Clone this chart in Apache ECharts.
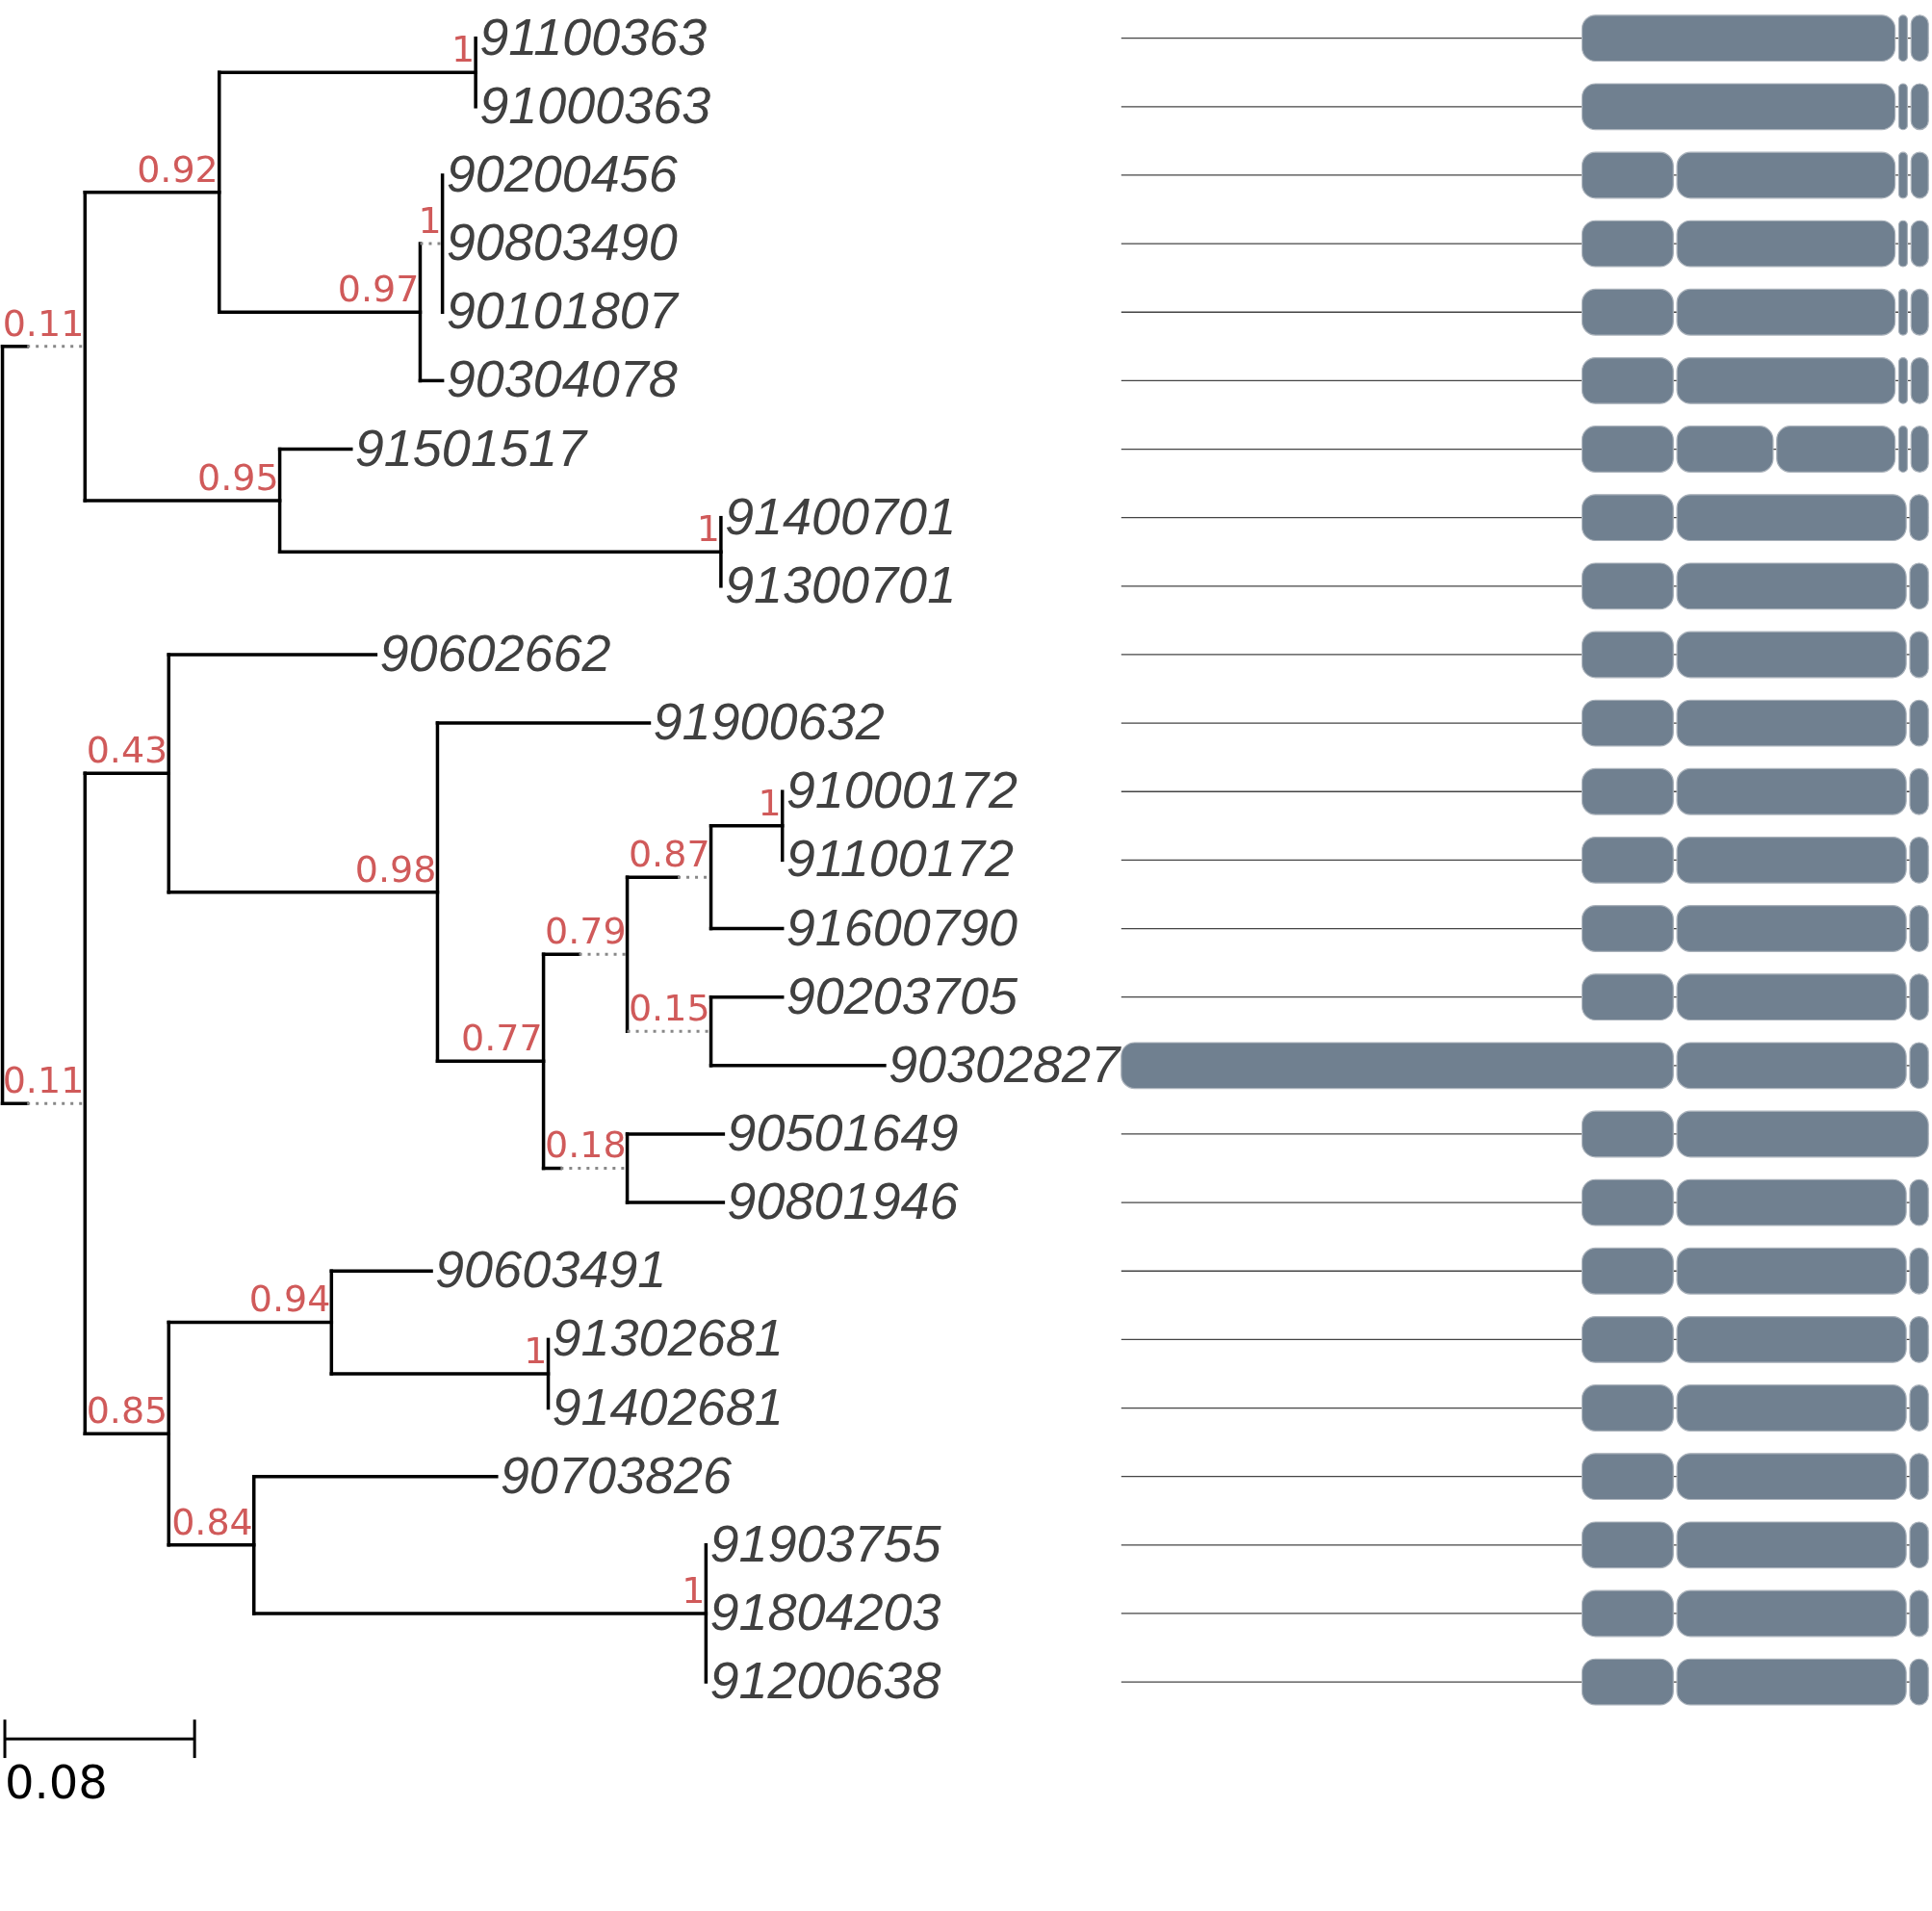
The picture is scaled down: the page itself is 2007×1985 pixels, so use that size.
<!DOCTYPE html>
<html><head><meta charset="utf-8">
<script src="https://cdn.jsdelivr.net/npm/echarts@6/dist/echarts.min.js"></script>
<style>html,body{margin:0;padding:0;background:#fff}#c{width:2007px;height:1985px}</style>
</head><body><div id="c"></div>
<script>
// leaves, top to bottom
const leafNames = ['91100363','91000363','90200456','90803490','90101807','90304078','91501517','91400701','91300701',
  '90602662','91900632','91000172','91100172','91600790','90203705','90302827','90501649','90801946',
  '90603491','91302681','91402681','90703826','91903755','91804203','91200638'];
const leafParent = ['A1a','A1a','A1c','A1c','A1c','A1b','A2','A2a','A2a','B1','B1b','F','F','E','G','G','H','H','I','J','J','K','L','L','L'];
const leafDepth = [0.1995,0.1995,0.1855,0.1855,0.1855,0.1855,0.1470,0.3029,0.3029,0.1574,0.2727,0.3288,0.3288,0.3288,0.3288,0.3719,0.3039,0.3039,0.1808,0.2301,0.2301,0.2083,0.2966,0.2966,0.2966];
// internal nodes: id, parent, depth, support, dotted-from depth
const nodeIds     = ['root','A','A1','A1a','A1b','A1c','A2','A2a','B','B1','B1b','C','D','E','F','G','H','B2','I','J','K','L'];
const nodeParent  = [null,'root','A','A1','A1','A1b','A','A2','root','B','B1','B1b','C','D','E','D','C','B','B2','I','B2','K'];
const nodeDepth   = [0,0.0348,0.0914,0.1995,0.1761,0.1855,0.1169,0.3029,0.0348,0.0701,0.1834,0.2281,0.2634,0.2987,0.3288,0.2987,0.2634,0.0701,0.1387,0.2301,0.1060,0.2966];
const nodeSupport = ['','0.11','0.92','1','0.97','1','0.95','1','0.11','0.43','0.98','0.77','0.79','0.87','1','0.15','0.18','0.85','0.94','1','0.84','1'];
const nodeDashFrom= [null,0.0104,null,null,null,0.1761,null,null,0.0104,null,null,null,0.2431,0.2847,null,0.2634,0.2353,null,null,null,null,null];
const scaleBar = 0.08;
// gene structures (exon start/end, relative position)
const T1 = [[374,628],[631,638],[641,655]];
const T2 = [[374,448],[451,628],[631,638],[641,655]];
const T3 = [[374,448],[451,529],[532,628],[631,638],[641,655]];
const T4 = [[374,448],[451,637],[640,655]];
const geneExons = [T1,T1,T2,T2,T2,T2,T3,T4,T4,T4,T4,T4,T4,T4,T4,[[0,448],[451,637],[640,655]],[[374,448],[451,655]],T4,T4,T4,T4,T4,T4,T4,T4];
const geneLength = 655;

// compute node y positions
const N = {};
nodeIds.forEach((id,i)=>N[id]={x:nodeDepth[i],p:nodeParent[i],s:nodeSupport[i],dash:nodeDashFrom[i],kids:[]});
leafNames.forEach((n,i)=>N[leafParent[i]].kids.push({x:leafDepth[i],y:i}));
nodeIds.forEach(id=>{if(N[id].p) N[N[id].p].kids.push(N[id]);});
function yOf(n){ if(n.y!==undefined) return n.y; const ys=n.kids.map(yOf); n.y=(Math.min(...ys)+Math.max(...ys))/2; n.y0=Math.min(...ys); n.y1=Math.max(...ys); return n.y; }
yOf(N.root);
// segments: [x1,y1,x2,y2,dotted]
const segs = [];
nodeIds.forEach(id=>{
  const n=N[id];
  segs.push([n.x,n.y0,n.x,n.y1,0]);
  n.kids.forEach(k=>{
    if(k.dash!=null && k.dash!==undefined){
      if(k.dash>n.x) segs.push([n.x,k.y,k.dash,k.y,0]);
      segs.push([k.dash,k.y,k.x,k.y,1]);
    } else segs.push([n.x,k.y,k.x,k.y,0]);
  });
});
const supLabels = nodeIds.filter(id=>N[id].s).map(id=>[N[id].x,N[id].y,N[id].s]);
const leafLabels = leafNames.map((n,i)=>[leafDepth[i],i,n]);
const geneRects = [];
geneExons.forEach((ex,i)=>ex.forEach(e=>geneRects.push([e[0],i,e[1]])));
const geneLines = geneExons.map((ex,i)=>[0,i,ex[ex.length-1][1]]);

const S = 1.28;
const rowPx = 55.58*S;
const yMin=-0.5, yMax=26;
const gTop = 31*S - 0.5*rowPx, gH = (yMax-yMin)*rowPx;
const yAx = i=>({gridIndex:i,type:'value',min:yMin,max:yMax,inverse:true,show:false});

const chart = echarts.init(document.getElementById('c'));
chart.setOption({
  animation:false,
  grid:[{left:2*S,top:gTop,width:0.45*1925*S,height:gH},
        {left:910*S,top:gTop,width:655*S,height:gH}],
  xAxis:[{gridIndex:0,type:'value',min:0,max:0.45,show:false},
         {gridIndex:1,type:'value',min:0,max:geneLength,show:false}],
  yAxis:[yAx(0),yAx(1)],
  series:[
    {type:'custom',xAxisIndex:0,yAxisIndex:0,clip:false,data:segs,
     renderItem:(p,api)=>{const a=api.coord([api.value(0),api.value(1)]),b=api.coord([api.value(2),api.value(3)]);
       const dotted=api.value(4)===1;
       return {type:'line',shape:{x1:a[0],y1:a[1],x2:b[0],y2:b[1]},
         style:dotted?{stroke:'#888',lineWidth:3,lineDash:[3,6]}:{stroke:'#000',lineWidth:3.5,lineCap:'square'}};}},
    {type:'custom',xAxisIndex:0,yAxisIndex:0,clip:false,data:supLabels,
     renderItem:(p,api)=>{const a=api.coord([api.value(0),api.value(1)]);
       return {type:'text',x:a[0]-1,y:a[1]-2,style:{text:supLabels[p.dataIndex][2],fill:'#d05a5a',
         font:'38px "DejaVu Sans"',align:'right',verticalAlign:'bottom'}};}},
    {type:'custom',xAxisIndex:0,yAxisIndex:0,clip:false,data:leafLabels,
     renderItem:(p,api)=>{const a=api.coord([api.value(0),api.value(1)]);
       return {type:'text',x:a[0]+4,y:a[1]+2,style:{text:leafLabels[p.dataIndex][2],fill:'#404040',
         font:'italic 54px "Liberation Sans"',align:'left',verticalAlign:'middle'}};}},
    {type:'custom',xAxisIndex:0,yAxisIndex:0,clip:false,data:[[0.001,24.83]],
     renderItem:(p,api)=>{const a=api.coord([api.value(0),api.value(1)]),b=api.coord([api.value(0)+scaleBar,api.value(1)]);
       const t=0.28*rowPx, st={stroke:'#000',lineWidth:3};
       return {type:'group',children:[
         {type:'line',shape:{x1:a[0],y1:a[1],x2:b[0],y2:b[1]},style:st},
         {type:'line',shape:{x1:a[0],y1:a[1]-t,x2:a[0],y2:a[1]+t},style:st},
         {type:'line',shape:{x1:b[0],y1:b[1]-t,x2:b[0],y2:b[1]+t},style:st},
         {type:'text',x:a[0],y:a[1]+0.7*rowPx,style:{text:String(scaleBar),fill:'#000',font:'48px "DejaVu Sans"',verticalAlign:'middle'}}]};}},
    {type:'custom',xAxisIndex:1,yAxisIndex:1,clip:false,data:geneLines,
     renderItem:(p,api)=>{const a=api.coord([api.value(0),api.value(1)]),b=api.coord([api.value(2),api.value(1)]);
       return {type:'line',shape:{x1:a[0],y1:a[1],x2:b[0],y2:b[1]},style:{stroke:'#444',lineWidth:1.3}};}},
    {type:'custom',xAxisIndex:1,yAxisIndex:1,clip:false,data:geneRects,
     renderItem:(p,api)=>{const a=api.coord([api.value(0),api.value(1)]),b=api.coord([api.value(2),api.value(1)]);
       const h=0.67*rowPx, w=b[0]-a[0], r=Math.min(14,w/2);
       return {type:'rect',shape:{x:a[0],y:a[1]-h/2,width:w,height:h,r:r},
         style:{fill:'#708090',stroke:'#aab2bb',lineWidth:1.2}};}}
  ]
});
</script></body></html>
